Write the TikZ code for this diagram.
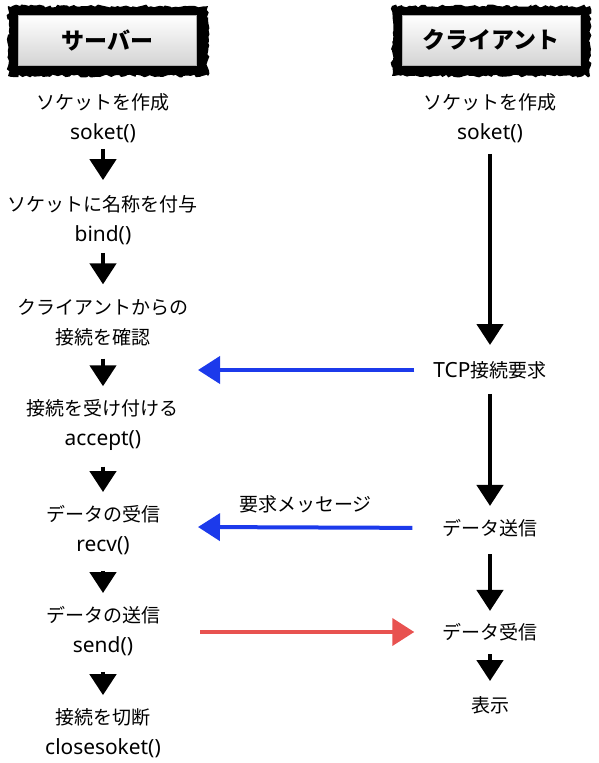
\documentclass[tikz,border=0pt]{standalone}
\usepackage{fontspec}
\setmainfont{Noto Sans CJK JP}
\newfontfamily\latinfont{Noto Sans}[Scale=1.1]
\usetikzlibrary{arrows.meta, decorations.pathmorphing}
\definecolor{reqblue}{RGB}{28,58,235}
\definecolor{resred}{RGB}{232,82,80}
\definecolor{headgray}{RGB}{212,212,212}

\begin{document}
\begin{tikzpicture}[x=1pt,y=-1pt,
        stage/.style={align=center, inner sep=0pt, font=\fontsize{19}{30}\selectfont},
        title/.style={rectangle, draw=gray!60, top color=white, bottom color=headgray, minimum width=178pt, minimum height=50pt, inner sep=0pt, font=\fontsize{23}{27}\selectfont\bfseries},
        grunge/.style={fill=black, decorate, decoration={random steps, segment length=3pt, amplitude=1.5pt}},
        down/.style={-{Triangle[width=26pt,length=21pt]}, line width=4.5pt, black},
        req/.style={-{Triangle[width=27pt,length=22pt]}, line width=4pt, reqblue},
        res/.style={-{Triangle[width=27pt,length=22pt]}, line width=4pt, resred}]
        \useasboundingbox (0,0) rectangle (598,763);

        % headers
        \fill[grunge] (8,6) rectangle (208,76);
        \node at (107.5,40) [title] (server) {サーバー};
        \fill[grunge] (392,6) rectangle (590,76);
        \node at (491,40) [title] (client) {クライアント};

        % server side
        \node at (103,118) [stage] (srv_socket) {ソケットを作成\\{\latinfont soket()}};
        \node at (103,220) [stage] (srv_bind)   {ソケットに名称を付与\\{\latinfont bind()}};
        \node at (103,323) [stage] (srv_check)  {クライアントからの\\接続を確認};
        \node at (103,425) [stage] (srv_accept) {接続を受け付ける\\{\latinfont accept()}};
        \node at (103,530) [stage] (srv_recv)   {データの受信\\{\latinfont recv()}};
        \node at (103,631) [stage] (srv_send)   {データの送信\\{\latinfont send()}};
        \node at (103,733) [stage] (srv_close)  {接続を切断\\{\latinfont closesoket()}};

        % client side
        \node at (490,118) [stage] (cli_socket) {ソケットを作成\\{\latinfont soket()}};
        \node at (490,370) [stage] (cli_tcp)    {{\latinfont TCP}接続要求};
        \node at (490,528) [stage] (cli_send)   {データ送信};
        \node at (490,632) [stage] (cli_recv)   {データ受信};
        \node at (490,705) [stage] (cli_show)   {表示};

        \coordinate (srv_tcp_in)  at (198,370);
        \coordinate (srv_msg_in)  at (198,527);
        \coordinate (srv_msg_out) at (200,632);

        \draw[down]
                (srv_socket) edge[shorten <=6pt, shorten >=15pt]  (srv_bind)
                (srv_bind)   edge[shorten <=8pt, shorten >=15pt]  (srv_check)
                (srv_check)  edge[shorten <=12pt, shorten >=13pt] (srv_accept)
                (srv_accept) edge[shorten <=16pt, shorten >=13pt] (srv_recv)
                (srv_recv)   edge[shorten <=16pt, shorten >=13pt] (srv_send)
                (srv_send)   edge[shorten <=16pt, shorten >=13pt] (srv_close)

                (cli_socket) edge[shorten <=11pt, shorten >=16pt] (cli_tcp)
                (cli_tcp)    edge[shorten <=15pt, shorten >=13pt] (cli_send)
                (cli_send)   edge[shorten <=17pt, shorten >=12pt] (cli_recv)
                (cli_recv)   edge[shorten <=13pt, shorten >=15pt] (cli_show)
            ;

        \draw[req] (cli_tcp.west)  [shorten <=19pt] -- (srv_tcp_in);
        \draw[req] (cli_send.west) [shorten <=30pt] -- node[pos=0.56, above=12.5pt, stage, text=black]{要求メッセージ} (srv_msg_in);
        \draw[res] (srv_msg_out) -- (cli_recv.west) [shorten >=28pt];

\end{tikzpicture}
\end{document}
